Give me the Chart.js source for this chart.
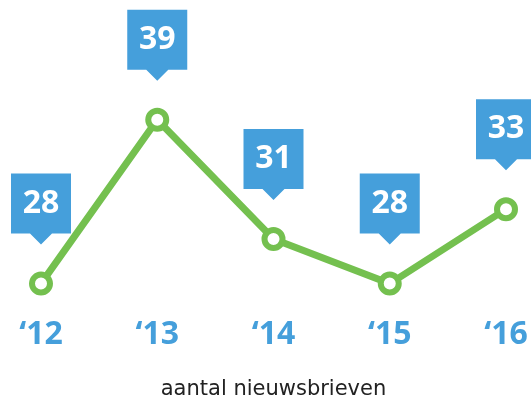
<!DOCTYPE html>
<html>
<head>
<meta charset="utf-8">
<script src="https://cdn.jsdelivr.net/npm/chart.js@4"></script>
<style>
  html, body { margin: 0; padding: 0; background: #fff; }
  #wrap { position: relative; width: 531px; height: 406px; }
</style>
</head>
<body>
<div id="wrap"><canvas id="chart"></canvas></div>
<script>
const years = ['\u201812', '\u201813', '\u201814', '\u201815', '\u201816'];
const newsletters = [28, 39, 31, 28, 33];

const BLUE = '#459fdb';
const GREEN = '#74c04f';

// draws the blue callout boxes above each point
const callouts = {
  id: 'callouts',
  afterDatasetsDraw(chart) {
    const ctx = chart.ctx;
    const meta = chart.getDatasetMeta(0);
    ctx.save();
    meta.data.forEach((pt, i) => {
      const x = pt.x, tip = pt.y - 39;
      const w = 60, h = 60, aw = 11, ah = 11;
      ctx.fillStyle = BLUE;
      ctx.beginPath();
      ctx.moveTo(x - w / 2, tip - ah - h);
      ctx.lineTo(x + w / 2, tip - ah - h);
      ctx.lineTo(x + w / 2, tip - ah);
      ctx.lineTo(x + aw, tip - ah);
      ctx.lineTo(x, tip);
      ctx.lineTo(x - aw, tip - ah);
      ctx.lineTo(x - w / 2, tip - ah);
      ctx.closePath();
      ctx.fill();
      ctx.fillStyle = '#fff';
      ctx.font = 'bold 32px "Open Sans"';
      ctx.textAlign = 'center';
      ctx.textBaseline = 'middle';
      ctx.fillText(String(newsletters[i]), x, tip - ah - h / 2);
    });
    ctx.restore();
  }
};

new Chart(document.getElementById('chart'), {
  type: 'line',
  data: {
    labels: years,
    datasets: [{
      data: newsletters,
      borderColor: GREEN,
      borderWidth: 7,
      pointRadius: 9,
      pointHoverRadius: 9,
      pointBorderWidth: 6,
      pointBorderColor: GREEN,
      pointBackgroundColor: '#fff',
      tension: 0,
      clip: false
    }]
  },
  options: {
    responsive: true,
    maintainAspectRatio: false,
    animation: false,
    events: [],
    layout: { padding: { top: 90, left: 41, right: 25, bottom: 0 } },
    scales: {
      x: {
        offset: false,
        grid: { display: false },
        border: { display: false },
        ticks: {
          color: BLUE,
          font: { family: '"Open Sans"', size: 32, weight: 'bold' },
          padding: -6,
          maxRotation: 0
        }
      },
      y: {
        display: false,
        min: 26,
        max: 41
      }
    },
    plugins: {
      legend: { display: false },
      tooltip: { enabled: false },
      title: {
        display: true,
        position: 'bottom',
        text: 'aantal nieuwsbrieven',
        color: '#222',
        font: { family: '"DejaVu Sans"', size: 21, weight: 'normal' },
        padding: { top: 29, bottom: 4 }
      }
    }
  },
  plugins: [callouts]
});
</script>
</body>
</html>
